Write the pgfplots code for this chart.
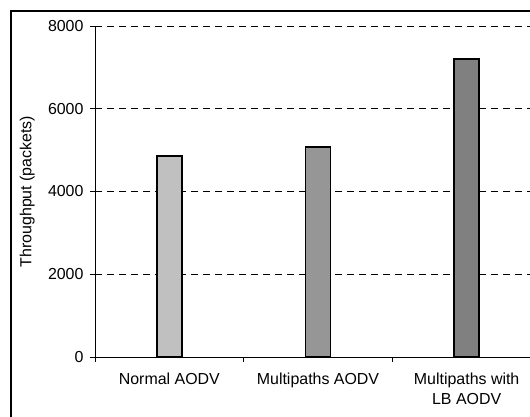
\documentclass[border=0pt]{standalone}
\usepackage{pgfplots}
\pgfplotsset{compat=1.18}
\usepackage{fontspec}
\setmainfont{Liberation Sans}

\definecolor{barA}{HTML}{C0C0C0}
\definecolor{barB}{HTML}{969696}
\definecolor{barC}{HTML}{808080}

\begin{document}
\begin{tikzpicture}
\path[use as bounding box, clip] (0,0) rectangle (530bp,417bp);
\fill[white] (0,0) rectangle (530bp,417bp);
\draw[black, line width=1.1bp] (11bp,406bp) rectangle (600bp,-50bp);
\begin{axis}[
    at={(95bp,60bp)}, anchor=south west,
    scale only axis,
    width=446bp, height=331bp,
    xmin=0, xmax=3,
    ymin=0, ymax=8000,
    axis x line=bottom, axis y line=left,
    axis line style={-, black, line width=0.9bp},
    ytick={0,2000,4000,6000,8000},
    ymajorgrids,
    major grid style={black, line width=0.7bp, dash pattern=on 7bp off 5bp},
    y tick style={black, line width=0.8bp},
    tick align=outside,
    major tick length=5bp,
    xtick={0.5,1.5,2.5},
    xticklabels={Normal AODV, Multipaths AODV, {Multipaths with\\LB AODV}},
    xtick style={draw=none},
    extra x ticks={0,1,2,3},
    extra x tick labels={},
    extra x tick style={xtick style={draw=black, line width=0.8bp}, grid=none},
    xticklabel style={align=center, font=\fontsize{16}{21}\selectfont, yshift=-7bp},
    yticklabel style={font=\fontsize{16}{19}\selectfont, xshift=-3bp},
    /pgf/number format/assume math mode=true,
    /pgf/number format/1000 sep={},
    ylabel={Throughput (packets)},
    every axis y label/.style={at={(axis description cs:-0.152,0.5)}, rotate=90, anchor=center, font=\fontsize{16}{19}\selectfont},
    ybar, bar width=25bp, bar shift=0pt,
    clip=false,
]
\addplot[fill=barA, draw=black, line width=1.6bp] coordinates {(0.5,4860)};
\addplot[fill=barB, draw=black, line width=1.6bp] coordinates {(1.5,5080)};
\addplot[fill=barC, draw=black, line width=1.6bp] coordinates {(2.5,7200)};
\end{axis}
\end{tikzpicture}
\end{document}
